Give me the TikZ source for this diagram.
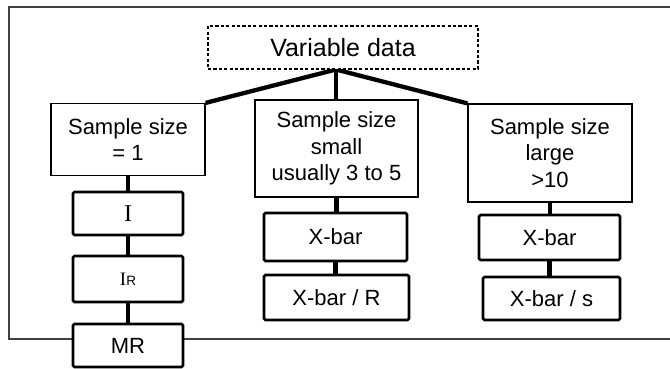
\documentclass[tikz,border=0pt]{standalone}
\usepackage{fontspec}
\setmainfont{Liberation Sans}
\newfontfamily\serifI{Liberation Serif}
\begin{document}
\begin{tikzpicture}[x=1pt,y=-1pt,
  topbox/.style={draw=black, line width=1.2pt, fill=white, inner sep=0pt, align=center,
    font=\fontsize{22}{26.5}\selectfont},
  chartbox/.style={draw=black, line width=2.8pt, rounded corners=1.5pt, fill=white, inner sep=0pt,
    align=center, font=\fontsize{22}{26.5}\selectfont},
  varbox/.style={draw=black, line width=1.6pt, dash pattern=on 3.2pt off 2.2pt, fill=white, inner sep=0pt,
    minimum width=270pt, minimum height=43pt, font=\fontsize{25}{28}\selectfont},
  heavy/.style={line width=4.3pt, line cap=butt},
  link/.style={line width=4.2pt},
  frame/.style={line width=1.4pt, draw=black!75}]
\useasboundingbox (0,0) rectangle (670,369);
% frame
\draw[frame] (672,7) -- (9,7) -- (9,339) -- (672,339);
% top node
\node[varbox] (var) at (343,47.5) {};
\coordinate (junc) at (336,69.5);
% second level
\node[topbox, minimum width=154pt, minimum height=72pt] (s1) at (128,139.5) {Sample size\\= 1};
\node[topbox, minimum width=163pt, minimum height=97pt] (s2) at (336.5,148.5) {Sample size\\small\\usually 3 to 5};
\node[topbox, minimum width=164pt, minimum height=98pt] (s3) at (550,153) {Sample size\\large\\>10};
% connectors top
\draw[heavy] (junc) -- (s1.north east);
\draw[heavy] (junc) -- (junc |- s2.north);
\draw[heavy] (junc) -- (s3.north west);
\node[varbox] (vartext) at (var.center) {Variable data};
% left column
\node[chartbox, minimum width=110pt, minimum height=43pt] (I) at (128,213.5) {{\serifI\fontsize{24}{26}\selectfont I}};
\node[chartbox, minimum width=110pt, minimum height=46pt] (IR) at (128,279) {{\serifI\fontsize{19}{20}\selectfont I}{\fontsize{13.5}{15}\selectfont R}};
\node[chartbox, minimum width=110pt, minimum height=43pt] (MR) at (128,345.5) {MR};
% middle column
\node[chartbox, minimum width=143pt, minimum height=48pt] (xb2) at (335.5,237) {X-bar};
\node[chartbox, minimum width=145pt, minimum height=45pt] (xbR) at (336.5,297.5) {X-bar / R};
% right column
\node[chartbox, minimum width=141pt, minimum height=45pt] (xb3) at (549.5,237.5) {X-bar};
\node[chartbox, minimum width=137pt, minimum height=43pt] (xbs) at (551.5,298.5) {X-bar / s};
% vertical links
\draw[link] (s1.south) -- (I.north);
\draw[link] (I.south) -- (IR.north);
\draw[link] (IR.south) -- (MR.north);
\draw[link] (s2.south) -- (s2.south |- xb2.north);
\draw[link] (xb2.south) -- (xb2.south |- xbR.north);
\draw[link] (s3.south) -- (s3.south |- xb3.north);
\draw[link] (xb3.south) -- (xb3.south |- xbs.north);
\end{tikzpicture}
\end{document}
